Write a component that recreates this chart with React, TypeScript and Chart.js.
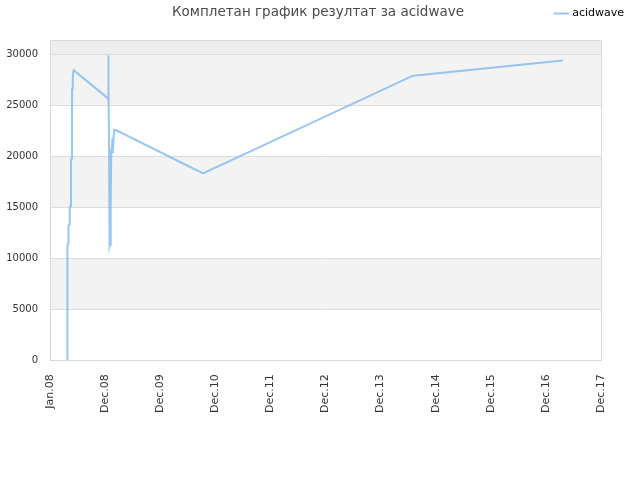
import { useEffect, useRef } from "react";
import { Chart, registerables } from "chart.js";

Chart.register(...registerables);

// x positions are in "tick units": 0 = Jan.08, 1 = Dec.08, ... 10 = Dec.17
const tickLabels = ["Jan.08", "Dec.08", "Dec.09", "Dec.10", "Dec.11", "Dec.12", "Dec.13", "Dec.14", "Dec.15", "Dec.16", "Dec.17"];
const yTicks = [0, 5000, 10000, 15000, 20000, 25000, 30000];
const xValues = [
  0.312, 0.316, 0.328, 0.334, 0.35, 0.358, 0.37, 0.381, 0.392, 0.399, 0.406, 0.414, 0.422, 0.436, 0.47,
  1.048, 1.053, 1.055, 1.06, 1.063, 1.068, 1.072, 1.076, 1.08, 1.086, 1.092, 1.098, 1.106, 1.112, 1.122,
  1.134, 1.14, 1.152, 1.168, 1.203, 2.777, 6.588, 9.31,
];
const scoreValues = [
  0, 11300, 11400, 13200, 13300, 15000, 15100, 19600, 19800, 26500, 26700, 27800, 28300, 28450, 28250,
  25700, 25600, 29900, 29850, 25900, 26800, 20800, 14400, 15600, 11300, 11600, 11200, 15600, 20400, 20600,
  21800, 20300, 21700, 22600, 22550, 18330, 27900, 29380,
];
const seriesName = "acidwave";
const titleText = "Комплетан график резултат за acidwave";

const FONT = "'DejaVu Sans', sans-serif";

const chartDecor = {
  id: "chartDecor",
  beforeInit(chart: any) {
    // push the plot down below the legend row
    const fit = chart.legend.fit;
    chart.legend.fit = function () {
      fit.call(this);
      this.height += 11;
    };
  },
  beforeDatasetsDraw(chart: any) {
    const { ctx, chartArea, scales } = chart;
    const y = scales.y;
    const bounds = [...yTicks, y.max];
    ctx.save();
    for (let i = 0; i < bounds.length - 1; i++) {
      const top = y.getPixelForValue(bounds[i + 1]);
      const bottom = y.getPixelForValue(bounds[i]);
      let color = i % 2 === 1 ? "#f3f3f3" : "#ffffff";
      if (i === bounds.length - 2) color = "#eeeeee";
      ctx.fillStyle = color;
      ctx.fillRect(chartArea.left, top, chartArea.right - chartArea.left, bottom - top);
    }
    ctx.strokeStyle = "#dddddd";
    ctx.lineWidth = 1;
    for (const v of yTicks) {
      const py = Math.round(y.getPixelForValue(v)) + 0.5;
      ctx.beginPath();
      ctx.moveTo(chartArea.left, py);
      ctx.lineTo(chartArea.right, py);
      ctx.stroke();
    }
    ctx.strokeStyle = "#d8d8d8";
    ctx.strokeRect(Math.round(chartArea.left) + 0.5, Math.round(chartArea.top) + 0.5, Math.round(chartArea.right - chartArea.left), Math.round(chartArea.bottom - chartArea.top));
    ctx.restore();
  },
  afterDraw(chart: any) {
    const { ctx } = chart;
    ctx.save();
    ctx.font = `13.5px ${FONT}`;
    ctx.fillStyle = "#4a4a4a";
    ctx.textAlign = "center";
    ctx.textBaseline = "middle";
    ctx.fillText(titleText, 318, 12);
    ctx.restore();
  },
};

function ScoreChart() {
  const canvasRef = useRef<HTMLCanvasElement>(null);

  useEffect(() => {
    if (!canvasRef.current) return;
    const chart = new Chart(canvasRef.current, {
      type: "line",
      data: {
        datasets: [
          {
            label: seriesName,
            data: xValues.map((x, i) => ({ x, y: scoreValues[i] })),
            borderColor: "rgba(110,175,240,0.7)",
            backgroundColor: "rgba(110,175,240,0.7)",
            borderWidth: 2,
            pointRadius: 0,
            tension: 0,
            fill: false,
          },
        ],
      },
      options: {
        animation: false,
        responsive: false,
        layout: { padding: { left: 7, right: 8, top: 0, bottom: 53 } },
        plugins: {
          title: { display: false },
          tooltip: { enabled: false },
          legend: {
            position: "top",
            align: "end",
            labels: {
              usePointStyle: true,
              pointStyle: "line",
              boxWidth: 11,
              padding: 8,
              color: "#000000",
              font: { family: FONT, size: 11 },
            },
          },
        },
        scales: {
          x: {
            type: "linear",
            min: 0,
            max: 10,
            grid: { display: false, drawTicks: false },
            border: { display: false },
            ticks: {
              stepSize: 1,
              autoSkip: false,
              minRotation: 90,
              maxRotation: 90,
              padding: 14,
              color: "#333333",
              font: { family: FONT, size: 11 },
              callback: (value: any) => tickLabels[Number(value)] ?? "",
            },
          },
          y: {
            min: 0,
            max: 31400,
            grid: { display: false, drawTicks: false },
            border: { display: false },
            afterBuildTicks: (scale: any) => {
              scale.ticks = yTicks.map((value) => ({ value }));
            },
            afterFit: (scale: any) => {
              scale.width = 43;
            },
            ticks: {
              padding: 12,
              color: "#333333",
              font: { family: FONT, size: 10 },
              callback: (value: any) => String(value),
            },
          },
          // empty right-hand gutter so the plot stops short of the legend edge
          gutter: {
            type: "linear",
            position: "right",
            display: true,
            grid: { display: false, drawTicks: false },
            border: { display: false },
            ticks: { display: false },
            afterFit: (scale: any) => {
              scale.width = 31;
            },
          },
        },
      },
      plugins: [chartDecor],
    });
    return () => chart.destroy();
  }, []);

  return <canvas ref={canvasRef} width={640} height={480} />;
}

export default function App() {
  return (
    <div style={{ position: "fixed", left: 0, top: 0, width: 640, height: 480, background: "#ffffff" }}>
      <ScoreChart />
    </div>
  );
}
